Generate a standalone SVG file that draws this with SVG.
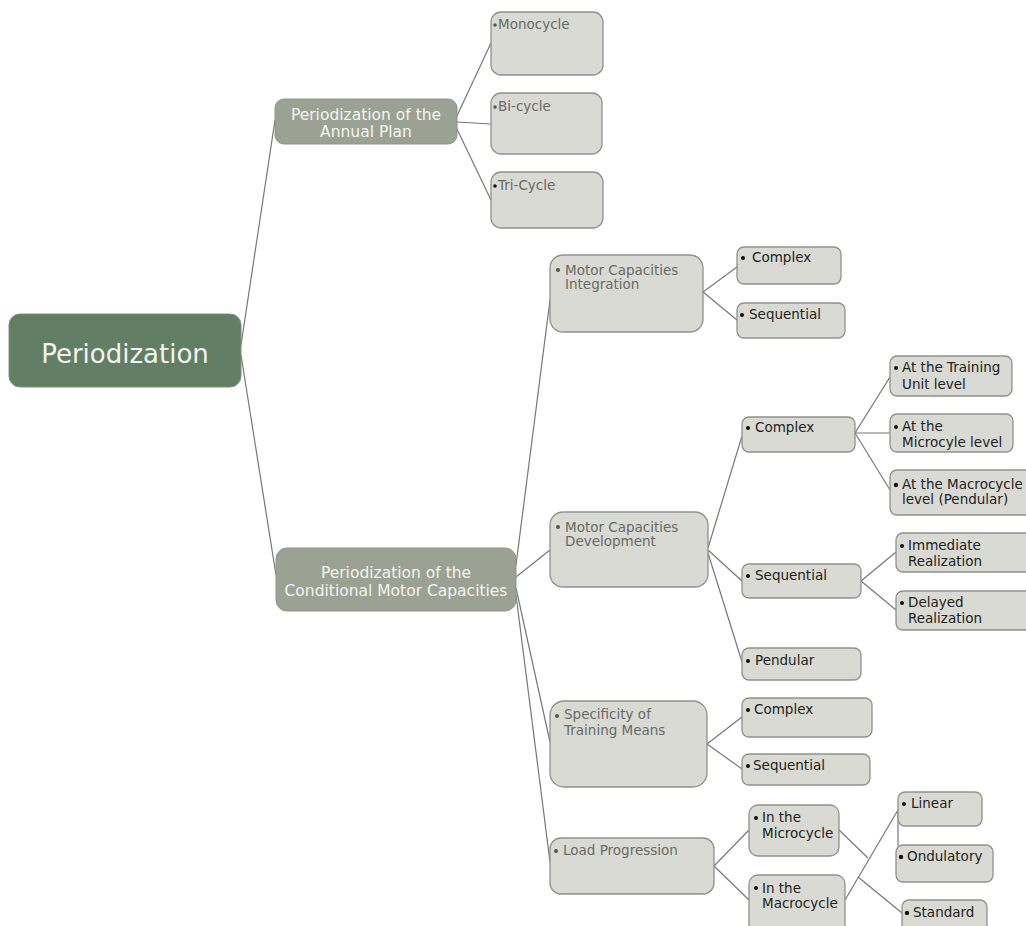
<svg xmlns="http://www.w3.org/2000/svg" width="1026" height="926" viewBox="0 0 1026 926">
<style>
.root{fill:#627f65;stroke:#7d8f7e;stroke-width:1}
.main{fill:#9ba294;stroke:#8c9288;stroke-width:1}
.box{fill:#d8dad3;stroke:#8f928c;stroke-width:1.3}
.rt{font-family:"DejaVu Sans",sans-serif;font-size:26px;fill:#f2f4ee;text-anchor:middle}
.mt{font-family:"DejaVu Sans",sans-serif;font-size:15.5px;fill:#f4f5f0;text-anchor:middle}
.gt{font-family:"DejaVu Sans",sans-serif;font-size:13.5px;fill:#6a6a66}
.dt{font-family:"DejaVu Sans",sans-serif;font-size:13.5px;fill:#222}
.gb{fill:#555}
.db{fill:#111}
#connectors line,#connectors polyline{stroke:#777;stroke-width:1.2;fill:none}
</style>
<g id="connectors">
<line x1="241" y1="345" x2="275" y2="120"/>
<line x1="241" y1="355" x2="276" y2="575"/>
<line x1="456" y1="118" x2="491" y2="43"/>
<line x1="456" y1="122" x2="491" y2="124"/>
<line x1="456" y1="127" x2="491" y2="200"/>
<line x1="516" y1="565" x2="550" y2="300"/>
<line x1="516" y1="577" x2="550" y2="550"/>
<line x1="516" y1="588" x2="550" y2="742"/>
<line x1="516" y1="595" x2="550" y2="862"/>
<line x1="703" y1="292" x2="737" y2="267"/>
<line x1="703" y1="292" x2="737" y2="320"/>
<line x1="708" y1="548" x2="742" y2="436"/>
<line x1="708" y1="550" x2="742" y2="581"/>
<line x1="708" y1="553" x2="742" y2="662"/>
<line x1="855" y1="433" x2="890" y2="377"/>
<line x1="855" y1="433" x2="890" y2="433"/>
<line x1="855" y1="433" x2="890" y2="490"/>
<line x1="861" y1="581" x2="896" y2="552"/>
<line x1="861" y1="581" x2="896" y2="610"/>
<line x1="707" y1="744" x2="742" y2="717"/>
<line x1="707" y1="744" x2="742" y2="769"/>
<line x1="714" y1="866" x2="749" y2="830"/>
<line x1="714" y1="866" x2="749" y2="900"/>
<line x1="839" y1="830" x2="868" y2="858"/>
<line x1="845" y1="900" x2="898" y2="810"/>
<line x1="858" y1="877" x2="902" y2="913"/>
<line x1="898" y1="810" x2="898" y2="846"/>
</g>
<g id="n-root"><rect class="root" x="9" y="314" width="232" height="73" rx="11"/><text class="rt" x="125" y="363">Periodization</text></g>
<g id="n-annual"><rect class="main" x="275" y="99" width="182" height="45" rx="9"/><text class="mt" x="366" y="120">Periodization of the</text><text class="mt" x="366" y="137">Annual Plan</text></g>
<g id="n-cond"><rect class="main" x="276" y="548" width="240" height="63" rx="11"/><text class="mt" x="396" y="578">Periodization of the</text><text class="mt" x="396" y="596">Conditional Motor Capacities</text></g>
<g id="n-mono"><rect class="box" x="491" y="12" width="112" height="63" rx="10"/><circle class="gb" cx="495" cy="25" r="1.8"/><text class="gt" x="498" y="29">Monocycle</text></g>
<g id="n-bi"><rect class="box" x="491" y="93" width="111" height="61" rx="10"/><circle class="gb" cx="495" cy="107" r="1.8"/><text class="gt" x="498" y="111">Bi-cycle</text></g>
<g id="n-tri"><rect class="box" x="491" y="172" width="112" height="56" rx="10"/><circle class="db" cx="495" cy="186" r="1.8"/><text class="gt" x="498" y="190">Tri-Cycle</text></g>
<g id="n-integ"><rect class="box" x="550" y="255" width="153" height="77" rx="13"/><circle class="gb" cx="558" cy="270" r="2"/><text class="gt" x="565" y="275">Motor Capacities</text><text class="gt" x="565" y="289">Integration</text></g>
<g id="n-c1"><rect class="box" x="737" y="247" width="104" height="37" rx="7"/><circle class="db" cx="743" cy="258" r="2"/><text class="dt" x="752" y="262">Complex</text></g>
<g id="n-s1"><rect class="box" x="737" y="303" width="108" height="35" rx="7"/><circle class="db" cx="742" cy="315" r="2"/><text class="dt" x="749" y="319">Sequential</text></g>
<g id="n-dev"><rect class="box" x="550" y="512" width="158" height="75" rx="13"/><circle class="gb" cx="558" cy="527" r="2"/><text class="gt" x="565" y="532">Motor Capacities</text><text class="gt" x="565" y="546">Development</text></g>
<g id="n-c2"><rect class="box" x="742" y="417" width="113" height="35" rx="7"/><circle class="db" cx="748" cy="428" r="2"/><text class="dt" x="755" y="432">Complex</text></g>
<g id="n-tu"><rect class="box" x="890" y="356" width="122" height="40" rx="7"/><circle class="db" cx="896" cy="368" r="2"/><text class="dt" x="902" y="372">At the Training</text><text class="dt" x="902" y="389">Unit level</text></g>
<g id="n-mic"><rect class="box" x="890" y="414" width="123" height="38" rx="7"/><circle class="db" cx="896" cy="427" r="2"/><text class="dt" x="902" y="431">At the</text><text class="dt" x="902" y="447">Microcyle level</text></g>
<g id="n-mac"><rect class="box" x="890" y="470" width="145" height="45" rx="7"/><circle class="db" cx="896" cy="485" r="2.2"/><text class="dt" x="902" y="489">At the Macrocycle</text><text class="dt" x="902" y="504">level (Pendular)</text></g>
<g id="n-s2"><rect class="box" x="742" y="564" width="119" height="34" rx="7"/><circle class="db" cx="748" cy="576" r="2"/><text class="dt" x="755" y="580">Sequential</text></g>
<g id="n-imm"><rect class="box" x="896" y="533" width="140" height="39" rx="7"/><circle class="db" cx="902" cy="546" r="2"/><text class="dt" x="908" y="550">Immediate</text><text class="dt" x="908" y="566">Realization</text></g>
<g id="n-del"><rect class="box" x="896" y="591" width="140" height="39" rx="7"/><circle class="db" cx="902" cy="603" r="2"/><text class="dt" x="908" y="607">Delayed</text><text class="dt" x="908" y="623">Realization</text></g>
<g id="n-pen"><rect class="box" x="742" y="648" width="119" height="32" rx="7"/><circle class="db" cx="748" cy="661" r="2"/><text class="dt" x="755" y="665">Pendular</text></g>
<g id="n-spec"><rect class="box" x="550" y="701" width="157" height="86" rx="14"/><circle class="gb" cx="557" cy="716" r="2"/><text class="gt" x="564" y="719">Specificity of</text><text class="gt" x="564" y="735">Training Means</text></g>
<g id="n-c3"><rect class="box" x="742" y="698" width="130" height="39" rx="7"/><circle class="db" cx="748" cy="710" r="2"/><text class="dt" x="754" y="714">Complex</text></g>
<g id="n-s3"><rect class="box" x="742" y="754" width="128" height="31" rx="7"/><circle class="db" cx="748" cy="766" r="2"/><text class="dt" x="753" y="770">Sequential</text></g>
<g id="n-load"><rect class="box" x="550" y="838" width="164" height="56" rx="11"/><circle class="gb" cx="556" cy="851" r="2"/><text class="gt" x="563" y="855">Load Progression</text></g>
<g id="n-inmic"><rect class="box" x="749" y="805" width="90" height="51" rx="9"/><circle class="db" cx="756" cy="818" r="2"/><text class="dt" x="762" y="822">In the</text><text class="dt" x="762" y="838">Microcycle</text></g>
<g id="n-inmac"><rect class="box" x="749" y="875" width="96" height="60" rx="9"/><circle class="db" cx="756" cy="888" r="2"/><text class="dt" x="762" y="893">In the</text><text class="dt" x="762" y="908">Macrocycle</text></g>
<g id="n-lin"><rect class="box" x="898" y="792" width="84" height="34" rx="7"/><circle class="db" cx="904" cy="804" r="2"/><text class="dt" x="911" y="808">Linear</text></g>
<g id="n-ond"><rect class="box" x="896" y="845" width="97" height="37" rx="7"/><circle class="db" cx="901" cy="857" r="2.2"/><text class="dt" x="907" y="861">Ondulatory</text></g>
<g id="n-std"><rect class="box" x="902" y="900" width="85" height="35" rx="7"/><circle class="db" cx="907" cy="913" r="2.2"/><text class="dt" x="913" y="917">Standard</text></g>
</svg>
